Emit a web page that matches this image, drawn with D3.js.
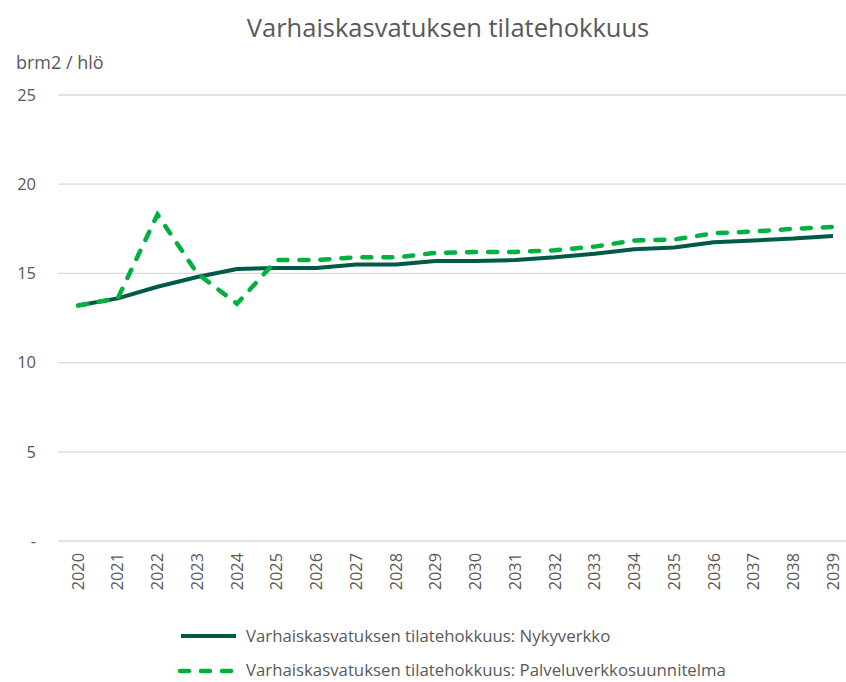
<html>
<head>
<style>
  body { margin: 0; background: #fff; }
  text { font-family: "Open Sans", "Noto Sans", sans-serif; fill: #595959; }
</style>
<script src="https://cdnjs.cloudflare.com/ajax/libs/d3/7.8.5/d3.min.js"></script>
</head>
<body>
<script>
const years = ['2020','2021','2022','2023','2024','2025','2026','2027','2028','2029',
               '2030','2031','2032','2033','2034','2035','2036','2037','2038','2039'];
const nykyverkko = [13.2, 13.6, 14.25, 14.8, 15.25, 15.3, 15.3, 15.5, 15.5, 15.7,
                    15.7, 15.75, 15.9, 16.1, 16.35, 16.45, 16.75, 16.85, 16.95, 17.1];
const palveluverkko = [13.2, 13.6, 18.3, 15.0, 13.3, 15.75, 15.75, 15.9, 15.9, 16.15,
                       16.2, 16.2, 16.3, 16.5, 16.85, 16.9, 17.25, 17.35, 17.5, 17.6];
const yTicks = [0, 5, 10, 15, 20, 25];
const seriesNames = ['Varhaiskasvatuksen tilatehokkuus: Nykyverkko',
                     'Varhaiskasvatuksen tilatehokkuus: Palveluverkkosuunnitelma'];

const width = 846, height = 682;
const svg = d3.select('body').append('svg')
  .attr('width', width).attr('height', height);

const x = d3.scalePoint().domain(years).range([78, 833]);
const y = d3.scaleLinear().domain([0, 25]).range([541, 95]);

// title
svg.append('text')
  .attr('x', 448).attr('y', 37)
  .attr('text-anchor', 'middle')
  .attr('font-size', 25.5)
  .text('Varhaiskasvatuksen tilatehokkuus');

svg.append('text')
  .attr('x', 16).attr('y', 69)
  .attr('font-size', 18)
  .text('brm2 / hlö');

// gridlines
svg.append('g').selectAll('line')
  .data(yTicks).enter().append('line')
  .attr('x1', 58).attr('x2', width)
  .attr('y1', d => y(d)).attr('y2', d => y(d))
  .attr('stroke', '#d9d9d9').attr('stroke-width', 1.3);

// y tick labels
svg.append('g').selectAll('text')
  .data(yTicks).enter().append('text')
  .attr('x', 36).attr('y', d => y(d))
  .attr('dy', '0.35em')
  .attr('text-anchor', 'end')
  .attr('font-size', 16.5)
  .text(d => d === 0 ? '-' : d);

// x labels
svg.append('g').selectAll('text')
  .data(years).enter().append('text')
  .attr('transform', d => `translate(${x(d)}, 553) rotate(-90)`)
  .attr('dy', '0.35em')
  .attr('text-anchor', 'end')
  .attr('font-size', 16.3)
  .text(d => d);

const line = d3.line()
  .x((d, i) => x(years[i]))
  .y(d => y(d));

svg.append('path')
  .datum(nykyverkko)
  .attr('d', line)
  .attr('fill', 'none')
  .attr('stroke', '#005a46')
  .attr('stroke-width', 4)
  .attr('stroke-linejoin', 'round');

svg.append('path')
  .datum(palveluverkko)
  .attr('d', line)
  .attr('fill', 'none')
  .attr('stroke', '#00b140')
  .attr('stroke-width', 4.5)
  .attr('stroke-linecap', 'round')
  .attr('stroke-dasharray', '9,12');

// legend
const legend = svg.append('g');
legend.append('line')
  .attr('x1', 181).attr('x2', 236).attr('y1', 636).attr('y2', 636)
  .attr('stroke', '#005a46').attr('stroke-width', 4);
legend.append('text')
  .attr('x', 246).attr('y', 636).attr('dy', '0.35em')
  .attr('font-size', 16.8)
  .text(seriesNames[0]);
legend.append('line')
  .attr('x1', 180).attr('x2', 234).attr('y1', 671).attr('y2', 671)
  .attr('stroke', '#00b140').attr('stroke-width', 4.5)
  .attr('stroke-linecap', 'round')
  .attr('stroke-dasharray', '9,12');
legend.append('text')
  .attr('x', 246).attr('y', 670).attr('dy', '0.35em')
  .attr('font-size', 16.8)
  .text(seriesNames[1]);
</script>
</body>
</html>
